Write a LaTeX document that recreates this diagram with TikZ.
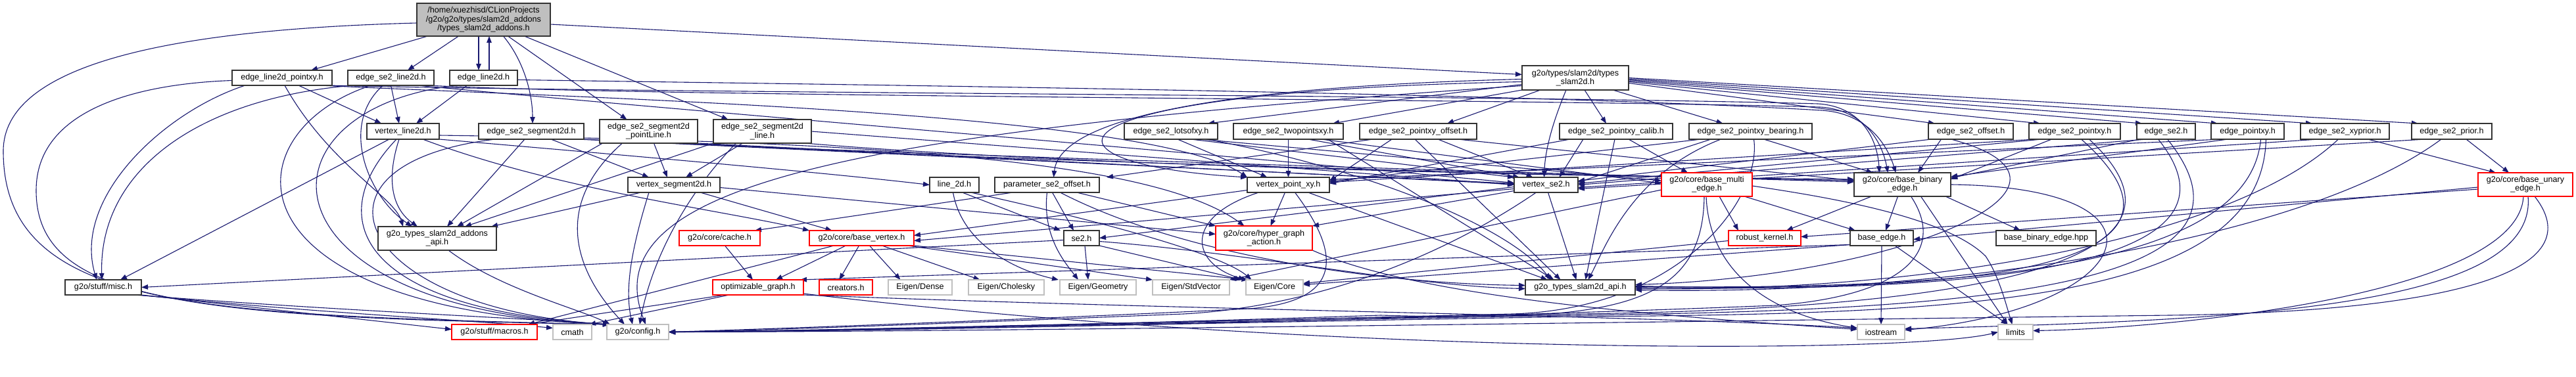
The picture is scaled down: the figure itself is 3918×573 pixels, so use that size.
\documentclass[tikz,border=0pt]{standalone}
\usepackage{fontspec}
\setmainfont{Liberation Sans}
\usetikzlibrary{arrows.meta}
\definecolor{eblue}{HTML}{191970}
\definecolor{gline}{HTML}{BFBFBF}
\definecolor{rootfill}{HTML}{BFBFBF}
\pgfdeclarelayer{edgelayer}
\pgfsetlayers{edgelayer,main}
\begin{document}
\begin{tikzpicture}[x=1pt,y=-1pt,
  box/.style={inner sep=0pt, outer sep=0pt, font=\fontsize{12.6}{13.4}\selectfont, align=center, line width=1.2pt, fill=white, minimum height=23pt},
  nb/.style={box, draw=black!80},
  nr/.style={box, draw=red},
  ng/.style={box, draw=gline},
  nroot/.style={box, draw=black!80, fill=rootfill},
  e/.style={draw=eblue, line width=1.1pt, -{Triangle[length=10pt,width=7.5pt]}},
]
\useasboundingbox (0,0) rectangle (3918,573);
% ---------------- nodes
\node[nroot, minimum width=203pt, minimum height=50pt] (R) at (735.5,30) {/home/xuezhisd/CLionProjects\\/g2o/g2o/types/slam2d\_addons\\/types\_slam2d\_addons.h};
\node[nb, minimum width=152pt] (elp) at (429,118.5) {edge\_line2d\_pointxy.h};
\node[nb, minimum width=131pt] (esl) at (594.5,118.5) {edge\_se2\_line2d.h};
\node[nb, minimum width=103pt] (el) at (735.5,118.5) {edge\_line2d.h};
\node[nb, minimum width=162pt, minimum height=37pt] (ts) at (2396,118.5) {g2o/types/slam2d/types\\\_slam2d.h};
\node[nb, minimum width=110pt, minimum height=24pt] (vl) at (613,200) {vertex\_line2d.h};
\node[nb, minimum width=160pt, minimum height=24pt] (ess) at (808,200) {edge\_se2\_segment2d.h};
\node[nb, minimum width=149pt, minimum height=36pt] (esspl) at (986.5,200) {edge\_se2\_segment2d\\\_pointLine.h};
\node[nb, minimum width=149pt, minimum height=36pt] (essl) at (1159.5,200) {edge\_se2\_segment2d\\\_line.h};
\node[nb, minimum width=142pt, minimum height=24pt] (lots) at (1781,200) {edge\_se2\_lotsofxy.h};
\node[nb, minimum width=167pt, minimum height=24pt] (two) at (1959.5,200) {edge\_se2\_twopointsxy.h};
\node[nb, minimum width=178pt, minimum height=24pt] (pxoff) at (2157,200) {edge\_se2\_pointxy\_offset.h};
\node[nb, minimum width=172pt, minimum height=24pt] (calib) at (2458,200) {edge\_se2\_pointxy\_calib.h};
\node[nb, minimum width=187pt, minimum height=24pt] (bear) at (2662.5,200) {edge\_se2\_pointxy\_bearing.h};
\node[nb, minimum width=129pt, minimum height=24pt] (off) at (2997.5,200) {edge\_se2\_offset.h};
\node[nb, minimum width=139pt, minimum height=24pt] (pxy) at (3155.5,200) {edge\_se2\_pointxy.h};
\node[nb, minimum width=89pt, minimum height=24pt] (se2e) at (3294.5,200) {edge\_se2.h};
\node[nb, minimum width=111pt, minimum height=24pt] (epxy) at (3418.5,200) {edge\_pointxy.h};
\node[nb, minimum width=135pt, minimum height=24pt] (xyp) at (3566.5,200) {edge\_se2\_xyprior.h};
\node[nb, minimum width=122pt, minimum height=24pt] (prior) at (3729,200) {edge\_se2\_prior.h};
\node[nb, minimum width=140pt] (vs) at (1025,281.5) {vertex\_segment2d.h};
\node[nb, minimum width=75pt] (l2d) at (1451.5,281.5) {line\_2d.h};
\node[nb, minimum width=159pt] (pso) at (1592.5,281.5) {parameter\_se2\_offset.h};
\node[nb, minimum width=125pt] (vpxy) at (1959.5,281.5) {vertex\_point\_xy.h};
\node[nb, minimum width=97pt] (vse2) at (2351.5,281.5) {vertex\_se2.h};
\node[nr, minimum width=138pt, minimum height=36pt] (bme) at (2596,281) {g2o/core/base\_multi\\\_edge.h};
\node[nb, minimum width=147pt, minimum height=36pt] (bbe) at (2893.5,281) {g2o/core/base\_binary\\\_edge.h};
\node[nr, minimum width=144pt, minimum height=36pt] (bue) at (3841,281) {g2o/core/base\_unary\\\_edge.h};
\node[nb, minimum width=180pt, minimum height=36pt] (aapi) at (665,363) {g2o\_types\_slam2d\_addons\\\_api.h};
\node[nr, minimum width=123pt] (cache) at (1094.5,362.5) {g2o/core/cache.h};
\node[nr, minimum width=159pt] (bv) at (1310.5,362.5) {g2o/core/base\_vertex.h};
\node[nb, minimum width=54pt] (se2) at (1645,362.5) {se2.h};
\node[nr, minimum width=147pt, minimum height=37pt] (hga) at (1922.5,362.5) {g2o/core/hyper\_graph\\\_action.h};
\node[nr, minimum width=110pt] (rk) at (2684,362.5) {robust\_kernel.h};
\node[nb, minimum width=96pt] (be) at (2862,362.5) {base\_edge.h};
\node[nb, minimum width=152pt] (bbhpp) at (3112,362.5) {base\_binary\_edge.hpp};
\node[nb, minimum width=116pt] (misc) at (157,437.5) {g2o/stuff/misc.h};
\node[nr, minimum width=138pt] (og) at (1153,437.5) {optimizable\_graph.h};
\node[nr, minimum width=81pt] (creat) at (1286.5,437.5) {creators.h};
\node[ng, minimum width=97pt] (dense) at (1399.5,437.5) {Eigen/Dense};
\node[ng, minimum width=115pt] (chol) at (1530.5,437.5) {Eigen/Cholesky};
\node[ng, minimum width=116pt] (geom) at (1670,437.5) {Eigen/Geometry};
\node[ng, minimum width=117pt] (stdv) at (1811.5,437.5) {Eigen/StdVector};
\node[ng, minimum width=87pt] (core) at (1938.5,437.5) {Eigen/Core};
\node[nb, minimum width=167pt] (sapi) at (2403.5,437.5) {g2o\_types\_slam2d\_api.h};
\node[nr, minimum width=130pt] (macros) at (752,505.5) {g2o/stuff/macros.h};
\node[ng, minimum width=59pt] (cmath) at (870.5,505.5) {cmath};
\node[ng, minimum width=94pt] (config) at (970,505.5) {g2o/config.h};
\node[ng, minimum width=72pt] (ios) at (2861,505.5) {iostream};
\node[ng, minimum width=53pt] (lim) at (3065.5,505.5) {limits};
% ---------------- edges
\begin{pgfonlayer}{edgelayer}
\fill[white] (0,0) rectangle (3918,573);
% root
\draw[e] ([xshift=-85pt]R.south) -- ([xshift=-32pt]elp.north east);
\draw[e] ([xshift=-38pt]R.south) -- ([xshift=-40pt]esl.north east);
\draw[e] ([xshift=-7.5pt]R.south) -- ([xshift=-7.5pt]el.north);
\draw[e] ([xshift=8.5pt]el.north) -- ([xshift=8.5pt]R.south);
\draw[e] ([xshift=30pt]R.south) .. controls (795,90) and (810,140) .. ([xshift=2pt]ess.north);
\draw[e] ([xshift=37pt]R.south) -- ([xshift=-33pt]esspl.north);
\draw[e] ([xshift=62pt]R.south) -- ([xshift=-52pt]essl.north);
\draw[e] ([yshift=-7pt]R.east) -- ([yshift=5pt]ts.west);
\draw[e] ([yshift=-5pt]R.west) .. controls (250,45) and (5,100) .. (5,230) .. controls (5,470) and (300,482) .. ([xshift=4pt]config.north west);
% elp
\draw[e] ([yshift=-4pt]elp.west) .. controls (200,128) and (55,170) .. (55,290) .. controls (55,465) and (300,480) .. ([xshift=4pt]config.north west);
\draw[e] ([xshift=-56pt]elp.south) .. controls (250,170) and (110,300) .. ([xshift=-10pt]misc.north);
\draw[e] ([xshift=25pt]elp.south) -- ([xshift=-33pt]vl.north);
\draw[e] ([xshift=4pt]elp.south) .. controls (500,250) and (600,300) .. ([xshift=-52pt]aapi.north);
\draw[e] ([xshift=-18pt]elp.south east) .. controls (900,150) and (1750,170) .. (vpxy.north west);
\draw[e] ([xshift=-8pt]elp.south east) .. controls (1000,142) and (2300,145) .. (2765,158) .. controls (2830,162) and (2855,210) .. ([xshift=-35pt]bbe.north);
% esl
\draw[e] ([xshift=8pt]esl.south west) .. controls (300,150) and (150,260) .. ([xshift=-2pt]misc.north);
\draw[e] (esl.south) -- ([xshift=-6pt]vl.north);
\draw[e] ([xshift=-12pt]esl.south) .. controls (515,190) and (560,300) .. ([xshift=-38pt]aapi.north);
\draw[e] ([xshift=-30pt]esl.south) .. controls (350,200) and (330,470) .. ([xshift=4pt]config.north west);
\draw[e] ([xshift=40pt]esl.south) .. controls (1000,165) and (1800,230) .. ([yshift=3pt]vse2.west);
\draw[e] ([xshift=-10pt]esl.south east) .. controls (1000,148) and (2300,150) .. (2768,163) .. controls (2835,167) and (2862,215) .. ([xshift=-22pt]bbe.north);
% el
\draw[e] ([xshift=-25pt]el.south) -- ([xshift=20pt]vl.north);
\draw[e] ([xshift=-40pt]el.south) .. controls (380,165) and (380,470) .. ([xshift=4pt]config.north west);
\draw[e] ([yshift=-3pt]el.east) .. controls (1200,128) and (2300,140) .. (2770,168) .. controls (2840,172) and (2870,220) .. ([xshift=-10pt]bbe.north);
% vl
\draw[e] ([xshift=-21pt]vl.south) -- ([xshift=26pt]misc.north);
\draw[e] ([xshift=-6pt]vl.south) .. controls (585,280) and (600,320) .. ([xshift=-30pt]aapi.north);
\draw[e] ([xshift=-10pt]vl.south) .. controls (490,330) and (540,470) .. ([xshift=4pt]config.north west);
\draw[e] (vl.south east) .. controls (900,232) and (1250,262) .. (l2d.west);
\draw[e] ([xshift=30pt]vl.south) .. controls (850,290) and (1100,320) .. (bv.north west);
\draw[e] ([yshift=-6pt]vl.east) .. controls (1300,215) and (1750,240) .. ([xshift=-30pt]hga.north);
% ess
\draw[e] ([xshift=30pt]ess.south) -- ([xshift=-38pt]vs.north);
\draw[e] ([xshift=-10pt]ess.south) -- ([xshift=15pt]aapi.north);
\draw[e] ([xshift=-55pt]ess.south) .. controls (440,250) and (540,470) .. ([xshift=4pt]config.north west);
\draw[e] (ess.south east) -- ([yshift=2pt]vse2.west);
\draw[e] ([xshift=-10pt]ess.south east) .. controls (1500,240) and (2300,262) .. ([yshift=4pt]bbe.west);
% esspl
\draw[e] ([xshift=8pt]esspl.south) -- ([xshift=-10pt]vs.north);
\draw[e] ([xshift=-70pt]esspl.south) -- ([xshift=30pt]aapi.north);
\draw[e] ([xshift=-40pt]esspl.south) .. controls (820,330) and (900,440) .. ([xshift=-20pt]config.north);
\draw[e] (esspl.south east) -- ([yshift=1pt]vse2.west);
\draw[e] ([xshift=-15pt]esspl.south east) .. controls (1500,245) and (2300,265) .. ([yshift=6pt]bbe.west);
% essl
\draw[e] ([xshift=-30pt]essl.south) -- ([xshift=18pt]vs.north);
\draw[e] (essl.south west) -- ([xshift=42pt]aapi.north);
\draw[e] ([xshift=-40pt]essl.south) .. controls (1040,300) and (990,400) .. ([xshift=3pt]config.north);
\draw[e] (essl.east) -- (vse2.west);
\draw[e] ([xshift=-10pt]essl.south east) .. controls (1600,250) and (2300,268) .. ([yshift=8pt]bbe.west);
% vs
\draw[e] ([xshift=-50pt]vs.south) -- ([xshift=-8pt]aapi.north east);
\draw[e] ([xshift=40pt]vs.south) -- ([xshift=-45pt]bv.north);
\draw[e] ([yshift=-4pt]vs.east) -- ([yshift=6pt]hga.west);
\draw[e] ([xshift=-38pt]vs.south) .. controls (960,380) and (950,440) .. ([xshift=-8pt]config.north);
% aapi, misc
\draw[e] ([xshift=17pt]aapi.south) .. controls (760,440) and (880,470) .. ([xshift=5pt]config.north west);
\draw[e] (misc.south east) -- ([yshift=4pt]macros.west);
\draw[e] ([xshift=-5pt]misc.south east) .. controls (500,478) and (700,486) .. ([yshift=6pt]cmath.west);
\draw[e] ([xshift=-10pt]misc.south east) .. controls (500,472) and (750,482) .. ([xshift=4pt]config.north west);
% line_2d
\draw[e] ([xshift=12pt]l2d.south) -- ([xshift=-5pt]se2.north west);
\draw[e] ([xshift=-2pt]l2d.south) .. controls (1465,380) and (1560,415) .. ([xshift=-2pt]geom.north west);
\draw[e] ([xshift=25pt]l2d.south) .. controls (1600,320) and (1850,380) .. ([xshift=-35pt]core.north);
% parameter_se2_offset
\draw[e] ([xshift=-52pt]pso.south) -- ([xshift=-8pt]cache.north east);
\draw[e] (pso.south) .. controls (1585,360) and (1620,400) .. ([xshift=-30pt]geom.north);
\draw[e] ([xshift=8pt]pso.south) -- ([xshift=-12pt]se2.north);
\draw[e] ([xshift=45pt]pso.south) -- (hga.north west);
\draw[e] ([xshift=20pt]pso.south) .. controls (1800,390) and (2100,432) .. ([yshift=3pt]sapi.west);
% se2
\draw[e] ([yshift=-3pt]se2.west) -- (misc.east);
\draw[e] ([xshift=5pt]se2.south) -- ([xshift=-15pt]geom.north);
\draw[e] (se2.south east) -- ([xshift=-50pt]core.north);
\draw[e] ([yshift=-5pt]se2.east) .. controls (1900,385) and (2150,436) .. ([yshift=-2pt]sapi.west);
% vertex_point_xy
\draw[e] ([yshift=-8pt]vpxy.west) -- ([yshift=4pt]bv.east);
\draw[e] ([xshift=-5pt]vpxy.south) -- ([xshift=10pt]hga.north);
\draw[e] ([xshift=30pt]vpxy.south) -- ([xshift=-50pt]sapi.north);
\draw[e] ([xshift=-45pt]vpxy.south) .. controls (1800,330) and (1810,400) .. ([xshift=-45pt]core.north);
\draw[e] ([xshift=10pt]vpxy.south) .. controls (2050,400) and (2030,460) .. (1900,470) .. controls (1600,485) and (1200,500) .. (config.east);
% vertex_se2
\draw[e] ([yshift=-6pt]vse2.west) -- ([yshift=-4pt]bv.east);
\draw[e] ([yshift=-9pt]vse2.west) -- (hga.north east);
\draw[e] ([yshift=-3pt]vse2.west) -- (se2.east);
\draw[e] ([xshift=3pt]vse2.south) -- ([xshift=-6pt]sapi.north);
\draw[e] ([xshift=-15pt]vse2.south) .. controls (2150,420) and (1950,470) .. (1800,478) .. controls (1500,490) and (1200,502) .. (config.east);
% types_slam2d
\draw[e] ([xshift=-14pt]ts.south) .. controls (2360,190) and (2350,230) .. ([xshift=-3pt]vse2.north);
\draw[e] ([yshift=-6pt]ts.west) .. controls (1550,140) and (1560,250) .. (vpxy.north west);
\draw[e] ([yshift=-2pt]ts.west) .. controls (1750,135) and (1610,200) .. ([xshift=10pt]pso.north);
\draw[e] ([yshift=-10pt]ts.west) -- ([xshift=-15pt]lots.north east);
\draw[e] (ts.south west) -- ([xshift=-16pt]two.north east);
\draw[e] ([xshift=-53pt]ts.south) -- ([xshift=-45pt]pxoff.north east);
\draw[e] ([xshift=14pt]ts.south) -- ([xshift=-15pt]calib.north);
\draw[e] ([xshift=57pt]ts.south) -- ([xshift=-42pt]bear.north);
\draw[e] ([yshift=-8pt]ts.east) -- ([xshift=10pt]off.north west);
\draw[e] ([yshift=-6pt]ts.east) -- ([xshift=17pt]pxy.north west);
\draw[e] ([yshift=-4.5pt]ts.east) -- ([xshift=8pt]se2e.north west);
\draw[e] ([yshift=-3pt]ts.east) -- ([xshift=10pt]epxy.north west);
\draw[e] ([yshift=-1.5pt]ts.east) -- ([xshift=18pt]xyp.north west);
\draw[e] (ts.east) -- ([xshift=10pt]prior.north west);
\draw[e] ([yshift=-12pt]ts.west) .. controls (1300,200) and (900,280) .. ([xshift=12pt]config.north);
% lotsofxy
\draw[e] ([xshift=30pt]lots.south) -- (vse2.north west);
\draw[e] ([xshift=10pt]lots.south) -- ([xshift=-32pt]vpxy.north);
\draw[e] ([xshift=45pt]lots.south) -- ([yshift=6pt]bme.west);
\draw[e] ([xshift=55pt]lots.south) .. controls (2100,262) and (2300,350) .. ([xshift=-45pt]sapi.north);
% twopointsxy
\draw[e] (two.south) -- (vpxy.north);
\draw[e] ([xshift=30pt]two.south) -- ([xshift=8pt]vse2.north west);
\draw[e] ([xshift=50pt]two.south) -- ([yshift=2pt]bme.west);
\draw[e] ([xshift=60pt]two.south) -- ([xshift=-40pt]sapi.north);
% pointxy_offset
\draw[e] ([xshift=-69pt]pxoff.south) -- ([xshift=11pt]pso.north east);
\draw[e] ([xshift=-40pt]pxoff.south) -- ([yshift=6pt]vpxy.east);
\draw[e] ([xshift=30pt]pxoff.south) -- ([xshift=-20pt]vse2.north);
\draw[e] ([xshift=60pt]pxoff.south) -- ([yshift=6pt]bbe.west);
\draw[e] ([xshift=-5pt]pxoff.south) -- ([xshift=-30pt]sapi.north);
% calib
\draw[e] ([xshift=-50pt]calib.south) -- ([xshift=20pt]vse2.north);
\draw[e] ([xshift=-70pt]calib.south) -- ([yshift=2pt]vpxy.east);
\draw[e] ([xshift=19pt]calib.south) -- ([xshift=-29pt]bme.north);
\draw[e] ([xshift=-2pt]calib.south) -- ([xshift=8pt]sapi.north);
% bearing
\draw[e] ([xshift=-60pt]bear.south) -- ([yshift=4pt]vse2.east);
\draw[e] ([xshift=-75pt]bear.south) -- ([yshift=5pt]vpxy.east);
\draw[e] ([xshift=20pt]bear.south) -- ([xshift=-45pt]bbe.north);
\draw[e] ([xshift=-45pt]bear.south) .. controls (2480,265) and (2440,380) .. ([xshift=12pt]sapi.north);
\draw[e] ([xshift=5pt]bear.south) .. controls (2680,300) and (2560,470) .. (2300,478) .. controls (1800,490) and (1300,503) .. (config.east);
% offset
\draw[e] ([xshift=-45pt]off.south) -- ([xshift=-50pt]bbe.north east);
\draw[e] ([xshift=-60pt]off.south) -- ([yshift=6pt]vse2.east);
\draw[e] ([xshift=-30pt]off.south) .. controls (3220,280) and (2900,420) .. ([yshift=4pt]sapi.east);
% pointxy
\draw[e] ([xshift=-50pt]pxy.south) -- ([yshift=2pt]vse2.east);
\draw[e] ([xshift=-60pt]pxy.south) -- ([yshift=4pt]vpxy.east);
\draw[e] ([xshift=-35pt]pxy.south) -- ([yshift=8pt]bbe.east);
\draw[e] ([xshift=10pt]pxy.south) .. controls (3400,420) and (2950,445) .. ([yshift=2pt]sapi.east);
\draw[e] ([xshift=22pt]pxy.south) .. controls (3380,400) and (3000,470) .. (2400,478) .. controls (1800,488) and (1300,503) .. (config.east);
% edge_se2
\draw[e] ([xshift=-30pt]se2e.south) -- (vse2.east);
\draw[e] ([xshift=-40pt]se2e.south) -- ([yshift=10pt]bbe.east);
\draw[e] ([xshift=-12pt]se2e.south) .. controls (3450,420) and (2950,445) .. (sapi.east);
\draw[e] ([xshift=2pt]se2e.south) .. controls (3480,440) and (3000,472) .. (2400,480) .. controls (1800,490) and (1300,504) .. (config.east);
% edge_pointxy
\draw[e] ([xshift=-40pt]epxy.south) -- ([yshift=8pt]vpxy.east);
\draw[e] ([xshift=-30pt]epxy.south) -- ([yshift=12pt]bbe.east);
\draw[e] ([xshift=20pt]epxy.south) .. controls (3420,420) and (2950,440) .. ([yshift=1pt]sapi.east);
\draw[e] ([xshift=28pt]epxy.south) .. controls (3440,460) and (3000,478) .. (2400,482) .. controls (1800,492) and (1300,505) .. (config.east);
% xyprior
\draw[e] ([xshift=-40pt]xyp.south) -- ([yshift=-4pt]vse2.east);
\draw[e] ([xshift=35pt]xyp.south) -- ([xshift=-45pt]bue.north);
\draw[e] ([xshift=-10pt]xyp.south) .. controls (3400,360) and (2950,445) .. ([yshift=-2pt]sapi.east);
% prior
\draw[e] ([xshift=-40pt]prior.south) -- ([yshift=-6pt]vse2.east);
\draw[e] ([xshift=22pt]prior.south) -- ([xshift=-25pt]bue.north);
\draw[e] ([xshift=-16pt]prior.south) .. controls (3500,370) and (2950,450) .. ([yshift=-4pt]sapi.east);
% base_unary_edge
\draw[e] ([yshift=-4pt]bue.west) -- ([yshift=-2pt]be.east);
\draw[e] ([yshift=-7pt]bue.west) -- ([yshift=2pt]rk.east);
\draw[e] ([xshift=-3pt]bue.south) .. controls (3830,450) and (3300,500) .. ([yshift=2pt]lim.east);
\draw[e] ([xshift=4pt]bue.south) .. controls (3860,470) and (3400,488) .. ([yshift=5pt]ios.east);
\draw[e] ([xshift=14pt]bue.south) .. controls (3950,420) and (3700,475) .. (3300,480) .. controls (2500,490) and (1500,505) .. (config.east);
% base_edge
\draw[e] (be.south) -- (ios.north);
\draw[e] ([xshift=20pt]be.south) -- ([xshift=-12pt]lim.north);
\draw[e] ([yshift=-10pt]be.west) -- ([xshift=-5pt]og.north east);
\draw[e] ([yshift=-10pt]be.west) -- ([yshift=4pt]core.east);
\draw[e] ([yshift=-4pt]rk.west) -- ([yshift=6pt]core.east);
% base_multi_edge
\draw[e] ([xshift=19pt]bme.south) -- ([xshift=-40pt]rk.north);
\draw[e] ([xshift=57pt]bme.south) -- ([xshift=-40pt]be.north);
\draw[e] ([xshift=-1pt]bme.south) .. controls (2600,420) and (2700,480) .. ([yshift=6pt]ios.west);
\draw[e] ([yshift=-2pt]bme.east) .. controls (2780,300) and (2960,330) .. (3020,390) .. controls (3040,420) and (3050,460) .. ([xshift=-5pt]lim.north);
\draw[e] ([xshift=-4pt]bme.south) .. controls (2590,470) and (2450,490) .. (2100,480) .. controls (1800,490) and (1300,504) .. (config.east);
\draw[e] ([yshift=-8pt]bme.west) -- (stdv.north east);
% base_binary_edge
\draw[e] ([xshift=-47pt]bbe.south) -- ([xshift=33pt]rk.north);
\draw[e] ([xshift=-7pt]bbe.south) -- ([xshift=6pt]be.north);
\draw[e] ([xshift=-8pt]bbe.south east) -- ([xshift=-39pt]bbhpp.north);
\draw[e] ([xshift=28pt]bbe.south) -- ([xshift=-12pt]lim.north);
\draw[e] (bbe.east) .. controls (3330,285) and (3250,470) .. ([yshift=3pt]ios.east);
\draw[e] ([xshift=13pt]bbe.south) .. controls (2960,380) and (2900,450) .. (2700,465) .. controls (2200,485) and (1400,504) .. (config.east);
% optimizable_graph, cache, hyper_graph_action
\draw[e] ([xshift=-50pt]og.south) -- ([xshift=-14pt]macros.north east);
\draw[e] ([xshift=-44pt]og.south) -- ([xshift=-4pt]cmath.north east);
\draw[e] (og.south east) .. controls (1800,472) and (2500,480) .. ([yshift=6pt]ios.west);
\draw[e] ([yshift=2pt]og.south east) .. controls (2000,540) and (2900,540) .. (lim.west);
\draw[e] ([xshift=8pt]cache.south) -- ([xshift=-8pt]og.north);
\draw[e] (hga.south east) .. controls (2150,450) and (2500,480) .. ([yshift=4pt]ios.west);
% base_vertex
\draw[e] ([xshift=-24pt]bv.south) -- ([xshift=27pt]og.north);
\draw[e] ([xshift=-4pt]bv.south) -- ([xshift=-10pt]creat.north);
\draw[e] ([xshift=12pt]bv.south) -- ([xshift=-30pt]dense.north);
\draw[e] ([xshift=31pt]bv.south) -- ([xshift=-40pt]chol.north);
\draw[e] ([xshift=-10pt]bv.south east) -- (stdv.north west);
\draw[e] (bv.south east) -- ([xshift=-40pt]core.north);
\draw[e] ([xshift=-42pt]bv.south) -- ([xshift=-14pt]macros.north east);
\end{pgfonlayer}
\end{tikzpicture}
\end{document}
